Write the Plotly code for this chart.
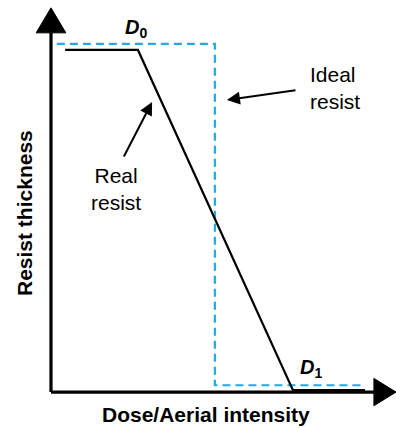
import plotly.graph_objects as go

# Data (arbitrary units: dose along x, normalized resist thickness along y)
real_dose = [0.41, 2.52, 7.01, 9.10]
real_thickness = [1.0, 1.0, 0.006, 0.006]
ideal_dose = [0.17, 4.75, 4.75, 9.10]
ideal_thickness = [1.018, 1.018, 0.02, 0.02]

# Axis frame geometry (data units)
x_min, x_max = -1.478, 10.0
y_min, y_max = -0.105, 1.146
yaxis_top = 1.05
xaxis_end = 9.36

FONT = "Liberation Sans, Arial, sans-serif"
BLUE = "#22ABE3"

fig = go.Figure()

# Ideal resist (dashed blue)
fig.add_trace(go.Scatter(x=ideal_dose, y=ideal_thickness, mode="lines",
                         line=dict(color=BLUE, width=2.2, dash="8px,5px"),
                         hoverinfo="skip", showlegend=False))
# Real resist (black)
fig.add_trace(go.Scatter(x=real_dose, y=real_thickness, mode="lines",
                         line=dict(color="black", width=2.2),
                         hoverinfo="skip", showlegend=False))

# Axes lines
fig.add_shape(type="line", x0=0, y0=0, x1=0, y1=yaxis_top,
              line=dict(color="black", width=3.2))
fig.add_shape(type="line", x0=0, y0=0, x1=xaxis_end, y1=0,
              line=dict(color="black", width=3.2))

# Arrow heads for axes
fig.add_trace(go.Scatter(x=[-0.43, 0.43, 0, -0.43], y=[yaxis_top, yaxis_top, 1.123, yaxis_top],
                         mode="lines", fill="toself", fillcolor="black",
                         line=dict(color="black", width=1), hoverinfo="skip", showlegend=False))
fig.add_trace(go.Scatter(x=[xaxis_end, xaxis_end, 10.0, xaxis_end], y=[-0.04, 0.04, 0, -0.04],
                         mode="lines", fill="toself", fillcolor="black",
                         line=dict(color="black", width=1), hoverinfo="skip", showlegend=False))

annotations = [
    # pointer arrows
    dict(x=2.93, y=0.848, ax=2.09, ay=0.684, xref="x", yref="y", axref="x", ayref="y",
         text="", showarrow=True, arrowhead=2, arrowsize=1.3, arrowwidth=2, arrowcolor="black"),
    dict(x=5.10, y=0.854, ax=7.13, ay=0.883, xref="x", yref="y", axref="x", ayref="y",
         text="", showarrow=True, arrowhead=2, arrowsize=1.3, arrowwidth=2, arrowcolor="black"),
    # labels
    dict(x=308 / 396, y=1 - 88 / 428, xref="paper", yref="paper", text="Ideal<br>resist",
         showarrow=False, xanchor="left", yanchor="middle", align="left",
         font=dict(family=FONT, size=21, color="black")),
    dict(x=116 / 396, y=1 - 189 / 428, xref="paper", yref="paper", text="Real<br>resist",
         showarrow=False, xanchor="center", yanchor="middle", align="center",
         font=dict(family=FONT, size=21, color="black")),
    dict(x=136 / 396, y=1 - 28 / 428, xref="paper", yref="paper",
         text="<b><i>D</i></b><sub><b>0</b></sub>",
         showarrow=False, xanchor="center", yanchor="middle",
         font=dict(family=FONT, size=20, color="black")),
    dict(x=311 / 396, y=1 - 368 / 428, xref="paper", yref="paper",
         text="<b><i>D</i></b><sub><b>1</b></sub>",
         showarrow=False, xanchor="center", yanchor="middle",
         font=dict(family=FONT, size=20, color="black")),
    # axis titles
    dict(x=206 / 396, y=1 - 414 / 428, xref="paper", yref="paper",
         text="<b>Dose/Aerial intensity</b>",
         showarrow=False, xanchor="center", yanchor="middle",
         font=dict(family=FONT, size=21, color="black")),
    dict(x=24 / 396, y=1 - 213 / 428, xref="paper", yref="paper",
         text="<b>Resist thickness</b>", textangle=-90,
         showarrow=False, xanchor="center", yanchor="middle",
         font=dict(family=FONT, size=21, color="black")),
]

fig.update_layout(
    width=396, height=428, autosize=False,
    margin=dict(l=0, r=0, t=0, b=0),
    paper_bgcolor="white", plot_bgcolor="white",
    xaxis=dict(range=[x_min, x_max], visible=False, fixedrange=True),
    yaxis=dict(range=[y_min, y_max], visible=False, fixedrange=True),
    annotations=annotations,
    showlegend=False,
)

fig.write_html("out.html", config={"displayModeBar": False, "responsive": False},
               post_script="document.body.style.margin='0';document.body.style.padding='0';"
                           "document.documentElement.style.overflow='hidden';")
